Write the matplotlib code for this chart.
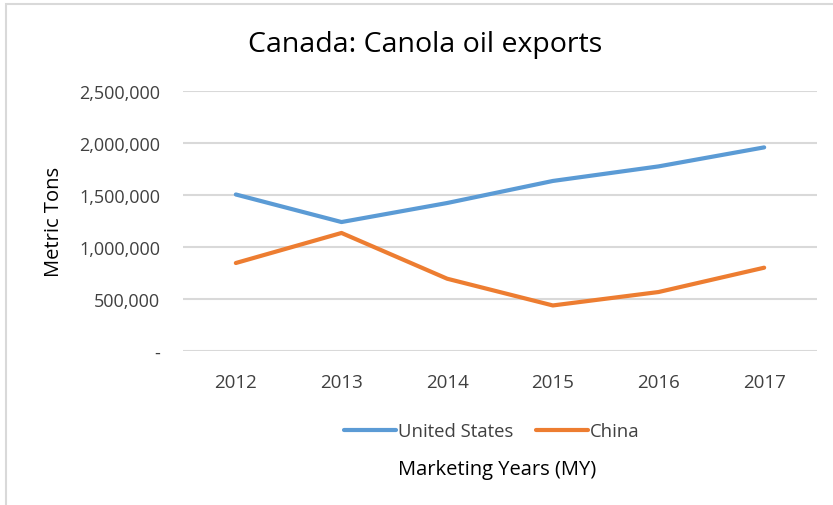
import matplotlib
matplotlib.use("Agg")
import matplotlib.pyplot as plt
from matplotlib.ticker import FuncFormatter
from matplotlib.patches import Rectangle

years = ["2012", "2013", "2014", "2015", "2016", "2017"]
us = [1505000, 1240000, 1423000, 1635000, 1775000, 1958000]
china = [846000, 1135000, 695000, 438000, 567000, 801000]
yticks = [0, 500000, 1000000, 1500000, 2000000, 2500000]

plt.rcParams['font.family'] = ['Open Sans', 'DejaVu Sans']

W, H = 833, 506
fig = plt.figure(figsize=(W / 100, H / 100), dpi=100)
fig.patch.set_facecolor('white')

# chart border (only left/top visible in reference)
fig.patches.append(Rectangle((6 / W, -0.1), 1.2, (H - 5) / H + 0.1, transform=fig.transFigure,
                             fill=False, edgecolor='#D9D9D9', linewidth=1.5, zorder=0))

ax = fig.add_axes([183 / W, 1 - 352 / H, (817 - 183) / W, (352 - 92) / H])
x = list(range(len(years)))
ax.plot(x, us, color='#5B9BD5', linewidth=3, solid_capstyle='round', label='United States', zorder=3)
ax.plot(x, china, color='#ED7D31', linewidth=3, solid_capstyle='round', label='China', zorder=3)

ax.set_xlim(-0.5, len(years) - 0.5)
ax.set_ylim(0, 2500000)
ax.set_yticks(yticks)
ax.yaxis.set_major_formatter(FuncFormatter(lambda v, p: '-' if v == 0 else f"{int(v):,}"))
ax.set_xticks(x)
ax.set_xticklabels(years)
ax.grid(axis='y', color='#D9D9D9', linewidth=1.5)
ax.set_axisbelow(True)
for s in ax.spines.values():
    s.set_visible(False)
ax.tick_params(axis='both', length=0, labelsize=13, colors='#404040')
ax.tick_params(axis='x', labelsize=13.5)
ax.tick_params(axis='y', pad=16.5)
ax.tick_params(axis='x', pad=16)
for lbl in ax.get_xticklabels() + ax.get_yticklabels():
    lbl.set_color('#404040')

ax.set_ylabel('Metric Tons', fontsize=14.5, color='#000000', labelpad=11)
fig.text(425 / W, 1 - 45 / H, 'Canada: Canola oil exports', fontsize=20.5, ha='center', va='center', color='#000000')
fig.text(497 / W, 1 - 470 / H, 'Marketing Years (MY)', fontsize=14.5, ha='center', va='center', color='#000000')

leg = fig.legend(loc='center', bbox_to_anchor=(492 / W, 1 - 432 / H), ncol=2, frameon=False,
                 fontsize=13.3, handlelength=2.8, handletextpad=0.1, columnspacing=1.25)
for t in leg.get_texts():
    t.set_color('#404040')

fig.savefig('out.png', dpi=100, facecolor='white')
